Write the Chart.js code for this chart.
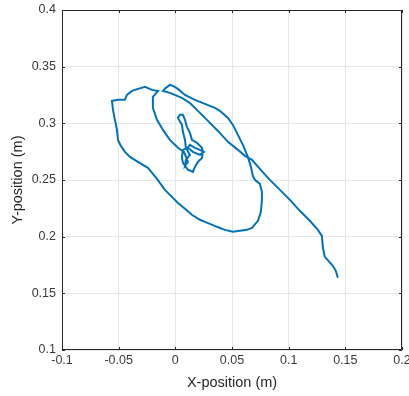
<!DOCTYPE html>
<html>
<head>
<meta charset="utf-8">
<script src="https://cdn.jsdelivr.net/npm/chart.js@4"></script>
<style>
  html, body { margin: 0; padding: 0; background: #fff; }
  #wrap { width: 409px; height: 396px; }
</style>
</head>
<body>
<div id="wrap"><canvas id="posChart" width="409" height="396"></canvas></div>
<script>
// trajectory (metres)
const xPos = [
  0.0093, 0.0129, 0.0173, 0.0217, 0.0252, 0.0217, 0.0155, 0.0111, 0.0067, 0.0058,
  0.0067, 0.0111, 0.0155, 0.0173, 0.0199, 0.0235, 0.0243, 0.0235, 0.0191, 0.0146,
  0.0129, 0.0102, 0.0085, 0.0067, 0.0041, 0.0023, 0.0058, 0.0067, 0.0085, 0.0093,
  0.0129, 0.0093, 0.0085, 0.0111, 0.0076, 0.0023,
  -0.0048, -0.0109, -0.0162, -0.0198, -0.0198, -0.0153,
  -0.0206, -0.0268, -0.0383, -0.0427, -0.0445, -0.0506, -0.0559,
  -0.0550, -0.0533, -0.0515, -0.0506, -0.0480, -0.0445, -0.0400, -0.0330, -0.0242, -0.0198,
  -0.0162, -0.0092, -0.0030, 0.0023, 0.0085, 0.0146, 0.0217, 0.0261, 0.0305, 0.0367,
  0.0437, 0.0508, 0.0570, 0.0632, 0.0676, 0.0729, 0.0755, 0.0764, 0.0764, 0.0746,
  0.0702, 0.0684, 0.0667, 0.0640, 0.0596, 0.0552, 0.0508, 0.0464, 0.0393, 0.0349,
  0.0261, 0.0173, 0.0085, 0.0023, -0.0021, -0.0048, -0.0083, -0.0109,
  -0.0048, 0.0058, 0.0129, 0.0199, 0.0288, 0.0376, 0.0464, 0.0552, 0.0614, 0.0676,
  0.0746, 0.0834, 0.0923, 0.1011, 0.1099, 0.1187, 0.1258, 0.1293, 0.1302, 0.1319,
  0.1390, 0.1416, 0.1434
];
const yPos = [
  0.2766, 0.2810, 0.2784, 0.2766, 0.2748, 0.2722, 0.2748, 0.2784, 0.2766, 0.2704,
  0.2651, 0.2590, 0.2572, 0.2616, 0.2660, 0.2695, 0.2748, 0.2784, 0.2828, 0.2854,
  0.2916, 0.2969, 0.3031, 0.3075, 0.3075, 0.3048, 0.2986, 0.2925, 0.2854, 0.2784,
  0.2722, 0.2678, 0.2625, 0.2660, 0.2748, 0.2784,
  0.2854, 0.2942, 0.3031, 0.3136, 0.3233, 0.3286,
  0.3295, 0.3322, 0.3286, 0.3251, 0.3207, 0.3207, 0.3198,
  0.3119, 0.3031, 0.2942, 0.2854, 0.2801, 0.2748, 0.2704, 0.2660, 0.2607, 0.2554,
  0.2510, 0.2413, 0.2351, 0.2298, 0.2246, 0.2193, 0.2149, 0.2131, 0.2113, 0.2087,
  0.2060, 0.2043, 0.2052, 0.2060, 0.2078, 0.2140, 0.2219, 0.2325, 0.2396, 0.2466,
  0.2501, 0.2537, 0.2616, 0.2704, 0.2810, 0.2898, 0.2986, 0.3048, 0.3110, 0.3136,
  0.3172, 0.3207, 0.3251, 0.3304, 0.3330, 0.3339, 0.3313, 0.3286,
  0.3269, 0.3225, 0.3180, 0.3110, 0.3022, 0.2933, 0.2837, 0.2766, 0.2713, 0.2678,
  0.2598, 0.2501, 0.2413, 0.2325, 0.2228, 0.2140, 0.2060, 0.2007, 0.1902, 0.1822,
  0.1743, 0.1699, 0.1637
];

const xTicks = ['-0.1', '-0.05', '0', '0.05', '0.1', '0.15', '0.2'];
const yTicks = ['0.1', '0.15', '0.2', '0.25', '0.3', '0.35', '0.4'];

const axisColor = '#262626';
const labelColor = '#3a3a3a';
const fontName = '"Liberation Sans", Arial, Helvetica, sans-serif';

// black box around the axes + small inward tick marks, matlab style
const boxPlugin = {
    id: 'boxPlugin',
    afterDraw(chart) {
        const {ctx, chartArea: a, scales} = chart;
        ctx.save();
        ctx.strokeStyle = axisColor;
        ctx.lineWidth = 1;
        ctx.beginPath();
        ctx.rect(a.left + 0.5, a.top + 0.5, a.right - a.left - 1, a.bottom - a.top - 1);
        ctx.stroke();
        ctx.beginPath();
        scales.x.ticks.forEach(t => {
            const px = Math.round(scales.x.getPixelForValue(t.value)) + 0.5;
            ctx.moveTo(px, a.bottom); ctx.lineTo(px, a.bottom - 3);
            ctx.moveTo(px, a.top); ctx.lineTo(px, a.top + 3);
        });
        scales.y.ticks.forEach(t => {
            const py = Math.round(scales.y.getPixelForValue(t.value)) + 0.5;
            ctx.moveTo(a.left, py); ctx.lineTo(a.left + 3, py);
            ctx.moveTo(a.right, py); ctx.lineTo(a.right - 3, py);
        });
        ctx.stroke();
        ctx.restore();
    }
};

function createChart() {
    const ctx = document.getElementById('posChart').getContext('2d');
    return new Chart(ctx, {
        type: 'scatter',
        data: {
            datasets: [{
                data: xPos.map((x, i) => ({x: x, y: yPos[i]})),
                showLine: true,
                borderColor: '#0072BD',
                borderWidth: 2,
                pointRadius: 0,
                fill: false,
                tension: 0
            }]
        },
        options: {
            responsive: false,
            animation: false,
            devicePixelRatio: 1,
            layout: { padding: { top: 10, right: 7, left: 0, bottom: 0 } },
            plugins: {
                legend: { display: false },
                tooltip: { enabled: false }
            },
            scales: {
                x: {
                    type: 'linear',
                    min: -0.1,
                    max: 0.2,
                    afterBuildTicks: s => { s.ticks = xTicks.map(v => ({value: parseFloat(v)})); },
                    afterFit: s => { s.height = 46; s.paddingLeft = 0; s.paddingRight = 0; },
                    grid: { color: '#e6e6e6', drawTicks: false },
                    border: { display: false },
                    ticks: {
                        padding: 3,
                        color: labelColor,
                        font: { family: fontName, size: 12.5 },
                        maxRotation: 0,
                        callback: (v, i) => xTicks[i]
                    },
                    title: {
                        display: true,
                        text: 'X-position (m)',
                        color: axisColor,
                        font: { family: fontName, size: 14.5 },
                        padding: { top: 4, bottom: 4 }
                    }
                },
                y: {
                    type: 'linear',
                    min: 0.1,
                    max: 0.4,
                    afterBuildTicks: s => { s.ticks = yTicks.map(v => ({value: parseFloat(v)})); },
                    afterFit: s => { s.width = 62; s.paddingTop = 0; s.paddingBottom = 0; },
                    grid: { color: '#e6e6e6', drawTicks: false },
                    border: { display: false },
                    ticks: {
                        padding: 6,
                        color: labelColor,
                        font: { family: fontName, size: 12.5 },
                        callback: (v, i) => yTicks[i]
                    },
                    title: {
                        display: true,
                        text: 'Y-position (m)',
                        color: axisColor,
                        font: { family: fontName, size: 14.5 },
                        padding: { top: 9, bottom: 9 }
                    }
                }
            }
        },
        plugins: [boxPlugin]
    });
}

createChart();
</script>
</body>
</html>
